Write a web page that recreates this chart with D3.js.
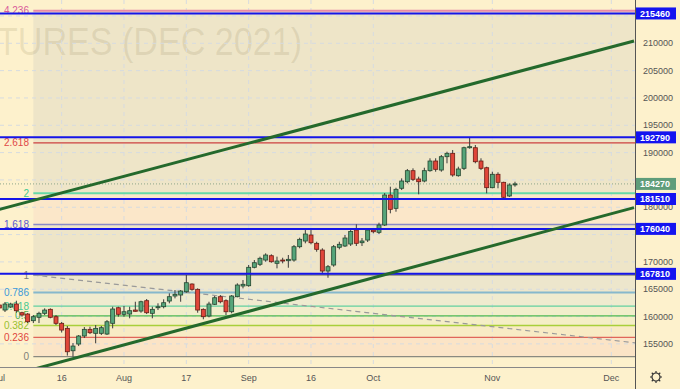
<!DOCTYPE html>
<html>
  <head>
    <meta charset="utf-8" />
    <title>D3</title>
    <script src="https://cdn.jsdelivr.net/npm/d3@7/dist/d3.min.js"></script>
    <style>
      body { margin: 0; background: #fdf1cc; }
      svg { display: block; font-family: "Liberation Sans", Arial, sans-serif; }
    </style>
  </head>
  <body>
    <div id="canvas"></div>
    <script>
      // daily candles, one per trading day starting 1 Jul 2021
      const opens = [162110,161190,161740,162290,160700,160460,159240,159860,160590,161320,159970,158760,157840,153740,154970,156440,157660,156930,156930,156800,158760,161610,160410,160460,161190,161010,162900,160590,161610,161800,162840,163760,163940,164540,165950,164980,161320,160100,162240,163630,162900,160880,163630,165590,165640,169010,169560,170340,171130,169740,170340,170220,170340,172780,173820,174920,173400,172170,168330,169430,172670,172910,173270,175830,173510,174000,175830,175410,176750,182240,179800,183470,184670,186690,185170,184800,186690,188460,186810,189250,189870,185770,187120,190890,190890,188460,187230,183580,186030,184560,182060,184100];
      const highs = [162480,162660,162530,162900,160880,160640,160280,160880,161500,161500,160280,159000,158270,155150,156620,158080,158140,158450,158270,159360,161800,161800,161930,161800,162710,162900,163210,161800,162420,163150,164250,164850,164850,167600,166070,165160,161500,162710,163760,163940,163150,163940,166080,166680,169430,170340,170960,171570,171390,170960,170760,171260,173090,174430,175830,175830,173690,172490,169430,173090,173690,174920,176020,176880,174370,176140,176140,177170,182600,183760,183570,185290,187000,187120,185590,187230,188960,188960,189560,190160,190470,187420,191080,192700,191390,188960,187420,186500,186390,184670,184380,184670];
      const lows = [161200,160830,161560,160700,159970,158810,158810,158810,160280,159680,158450,157070,152850,152650,154600,156070,156800,155100,156620,156620,157840,159970,159970,159680,160880,160700,160460,159680,161190,161500,162420,163330,162710,164360,164730,160700,159500,159860,162110,162420,160280,160590,163520,165160,165460,168820,169250,170030,169850,168820,169740,168930,170030,172490,173400,173220,171860,167780,167100,169120,172300,172730,172910,172910,172910,173640,175230,175100,176570,178890,179180,183150,184380,184800,182370,184560,186500,186500,186500,188040,185590,185590,186810,190710,188040,186810,182550,183470,183470,181640,181870,183760];
      const closes = [161570,162290,162290,161070,160280,159050,159970,160590,161190,159860,158760,157530,153560,154600,156440,157660,157040,157840,157960,159050,161380,160410,160880,161070,160960,162710,160700,161320,161800,162530,163630,164070,164670,166190,164980,161190,159970,162290,163440,162710,160880,163760,165770,165900,169010,169850,170660,171260,170030,170160,170220,170470,172780,174130,175100,173510,172300,168330,169120,172780,173220,174370,175560,173400,173820,175830,175520,176750,182240,179620,183280,184800,186690,185110,184670,186690,188460,186940,189250,189870,185900,187000,190890,191080,188330,187120,183580,186030,184560,181820,184070,184270];

      // axis labels
      const xTickDates = ["2021-07-01","2021-07-16","2021-08-02","2021-08-17","2021-09-01","2021-09-16","2021-10-01","2021-11-01","2021-12-01"];
      const xTickLabels = ["Jul","16","Aug","17","Sep","16","Oct","Nov","Dec"];
      const yTicks = [155000,160000,165000,170000,175000,180000,185000,190000,195000,200000,205000,210000,215000];
      const yTicksHidden = [175000,185000,215000]; // covered by the price boxes

      // drawings
      const fibRatios = [0, 0.236, 0.382, 0.5, 0.618, 0.786, 1, 1.618, 2, 2.618, 4.236];
      const fibLabels = ["0","0.236","0.382","0.5","0.618","0.786","1","1.618","2","2.618","4.236"];
      const fibLineColors = ["#8a8a80","#e0665a","#a8cf3a","#4cb850","#62d0a0","#86b8cc","#8a8a80","#8a8ac8","#66d8a8","#cc4040","#e88aa8"];
      const fibTextColors = ["#808078","#e0463c","#98c030","#4cae4c","#46c890","#3c9ad8","#808078","#5a5ad0","#3cc890","#e04848","#d95a9a"];
      const fibFills = ["#fbe4c6","#f8ebc4","#f4eec6","#f1eecb","#efebcf","#ede6cc","#eee5c8","#fbe7c9","#eee5c8","#eee5c8"];
      const fibStart = 6, fibPrice0 = 152650, fibPrice1 = 167600;
      const keyLevels = [215460, 192790, 181510, 176040, 167810];
      const lastPrice = 184270;
      const upperChannel = [[0, 179600], [112, 210430]];
      const lowerChannel = [[0, 148670], [112, 179930]];
      const fibTrend = [[6, 167600], [134, 152650]];

      const width = 680, height = 389;
      const plotW = 635, plotH = 367;
      const fmt = d3.timeFormat("%Y-%m-%d");
      const days = d3.timeDay.range(new Date(2021, 6, 1), new Date(2021, 11, 20))
        .filter((d) => d.getDay() % 6 !== 0 && fmt(d) !== "2021-11-04");
      const dayIndex = (s) => days.findIndex((d) => fmt(d) === s);

      const x = d3.scaleLinear().domain([0, 112]).range([-0.667, 634]);
      const y = d3.scaleLinear().domain([150768, 217923]).range([plotH, 0]);

      const svg = d3.create("svg").attr("width", width).attr("height", height);
      svg.append("rect").attr("width", width).attr("height", height).attr("fill", "#fdf1cc");
      svg.append("clipPath").attr("id", "plot").append("rect").attr("width", plotW).attr("height", plotH);
      const plot = svg.append("g").attr("clip-path", "url(#plot)");

      // fib background bands
      const fibY = fibRatios.map((r) => y(fibPrice0 + r * (fibPrice1 - fibPrice0)));
      plot.append("g").selectAll().data(fibFills).join("rect")
        .attr("x", x(fibStart)).attr("width", plotW - x(fibStart))
        .attr("y", (d, i) => fibY[i + 1]).attr("height", (d, i) => fibY[i] - fibY[i + 1])
        .attr("fill", (d) => d);

      // watermark
      plot.append("text").attr("x", -3).attr("y", 55).attr("font-size", 38)
        .attr("textLength", 305).attr("lengthAdjust", "spacingAndGlyphs")
        .attr("fill", "#8c7e52").attr("fill-opacity", 0.16).text("TURES (DEC 2021)");

      // grid
      const grid = plot.append("g").attr("stroke", "#d6dbe0").attr("stroke-dasharray", "4,4");
      grid.selectAll().data(xTickDates).join("line")
        .attr("x1", (d) => x(dayIndex(d))).attr("x2", (d) => x(dayIndex(d))).attr("y1", 0).attr("y2", plotH);
      grid.selectAll().data(yTicks).join("line")
        .attr("y1", (d) => y(d)).attr("y2", (d) => y(d)).attr("x1", 0).attr("x2", plotW);

      // fib lines + labels
      plot.append("g").selectAll().data(fibRatios).join("line")
        .attr("x1", x(fibStart)).attr("x2", plotW)
        .attr("y1", (d, i) => fibY[i]).attr("y2", (d, i) => fibY[i])
        .attr("stroke", (d, i) => fibLineColors[i])
        .attr("stroke-width", (d, i) => (i === 10 || i === 8 || i === 5 ? 2 : 1.3));
      plot.append("g").attr("font-size", 10).attr("text-anchor", "end").selectAll().data(fibLabels).join("text")
        .attr("x", 29).attr("y", (d, i) => fibY[i]).attr("dy", "0.35em")
        .attr("fill", (d, i) => fibTextColors[i]).text((d) => d);

      plot.append("path").datum(fibTrend)
        .attr("d", d3.line().x((d) => x(d[0])).y((d) => y(d[1])))
        .attr("stroke", "#9a9a9a").attr("stroke-width", 1.2).attr("stroke-dasharray", "5,4").attr("fill", "none");

      // last price dotted line
      plot.append("line").attr("x1", 0).attr("x2", plotW).attr("y1", y(lastPrice)).attr("y2", y(lastPrice))
        .attr("stroke", "#8fa88a").attr("stroke-dasharray", "1,2");

      // candles
      const candles = opens.map((o, i) => ({ i, o, h: highs[i], l: lows[i], c: closes[i] }));
      const cg = plot.append("g").selectAll().data(candles).join("g");
      cg.append("line")
        .attr("x1", (d) => x(d.i)).attr("x2", (d) => x(d.i))
        .attr("y1", (d) => y(d.h)).attr("y2", (d) => y(d.l))
        .attr("stroke", "#3a3a3a");
      cg.append("rect")
        .attr("x", (d) => x(d.i) - 2).attr("width", 4)
        .attr("y", (d) => y(Math.max(d.o, d.c)))
        .attr("height", (d) => Math.max(1, Math.abs(y(d.o) - y(d.c))))
        .attr("fill", (d) => (d.c >= d.o ? "#56a57a" : "#e0463a"))
        .attr("stroke", (d) => (d.c >= d.o ? "#24452f" : "#6b1c14")).attr("stroke-width", 0.8);

      // key horizontal levels
      plot.append("g").selectAll().data(keyLevels).join("line")
        .attr("x1", 0).attr("x2", plotW).attr("y1", (d) => y(d)).attr("y2", (d) => y(d))
        .attr("stroke", "#1515e8").attr("stroke-width", 2);

      // channel lines
      const line = d3.line().x((d) => x(d[0])).y((d) => y(d[1]));
      plot.append("g").attr("fill", "none").attr("stroke", "#24692c").attr("stroke-width", 3)
        .selectAll().data([upperChannel, lowerChannel]).join("path").attr("d", line);

      // frame
      svg.append("line").attr("x1", plotW + 0.5).attr("x2", plotW + 0.5).attr("y1", 0).attr("y2", height).attr("stroke", "#555");
      svg.append("line").attr("x1", 0).attr("x2", plotW).attr("y1", plotH + 0.5).attr("y2", plotH + 0.5).attr("stroke", "#888");

      // x labels
      svg.append("g").attr("font-size", 9).attr("fill", "#555").attr("text-anchor", "middle")
        .selectAll().data(xTickDates).join("text")
        .attr("x", (d) => x(dayIndex(d))).attr("y", 381).text((d, i) => xTickLabels[i]);

      // y labels
      svg.append("g").attr("font-size", 9).attr("fill", "#555")
        .selectAll().data(yTicks.filter((t) => !yTicksHidden.includes(t))).join("text")
        .attr("x", 643).attr("y", (d) => y(d)).attr("dy", "0.35em").text((d) => d);

      // price boxes
      const boxes = keyLevels.map((v) => ({ v, fill: "#1414f0" })).concat([{ v: lastPrice, fill: "#5f9d7a" }]);
      const bg = svg.append("g").selectAll().data(boxes).join("g")
        .attr("transform", (d) => `translate(636,${y(d.v)})`);
      bg.append("rect").attr("x", 0).attr("y", -6).attr("width", 40).attr("height", 12).attr("fill", (d) => d.fill);
      bg.append("text").attr("x", 4).attr("dy", "0.35em").attr("font-size", 9).attr("font-weight", "bold")
        .attr("fill", "#fff").text((d) => d.v);

      // settings gear
      const gear = svg.append("g").attr("transform", "translate(656,377)").attr("stroke", "#333").attr("fill", "none");
      gear.append("circle").attr("r", 4).attr("stroke-width", 1.2);
      gear.selectAll("line").data(d3.range(8)).join("line")
        .attr("x1", (d) => 4 * Math.cos(d * Math.PI / 4)).attr("y1", (d) => 4 * Math.sin(d * Math.PI / 4))
        .attr("x2", (d) => 6 * Math.cos(d * Math.PI / 4)).attr("y2", (d) => 6 * Math.sin(d * Math.PI / 4))
        .attr("stroke-width", 1.2);

      canvas.append(svg.node());
    </script>
  </body>
</html>
